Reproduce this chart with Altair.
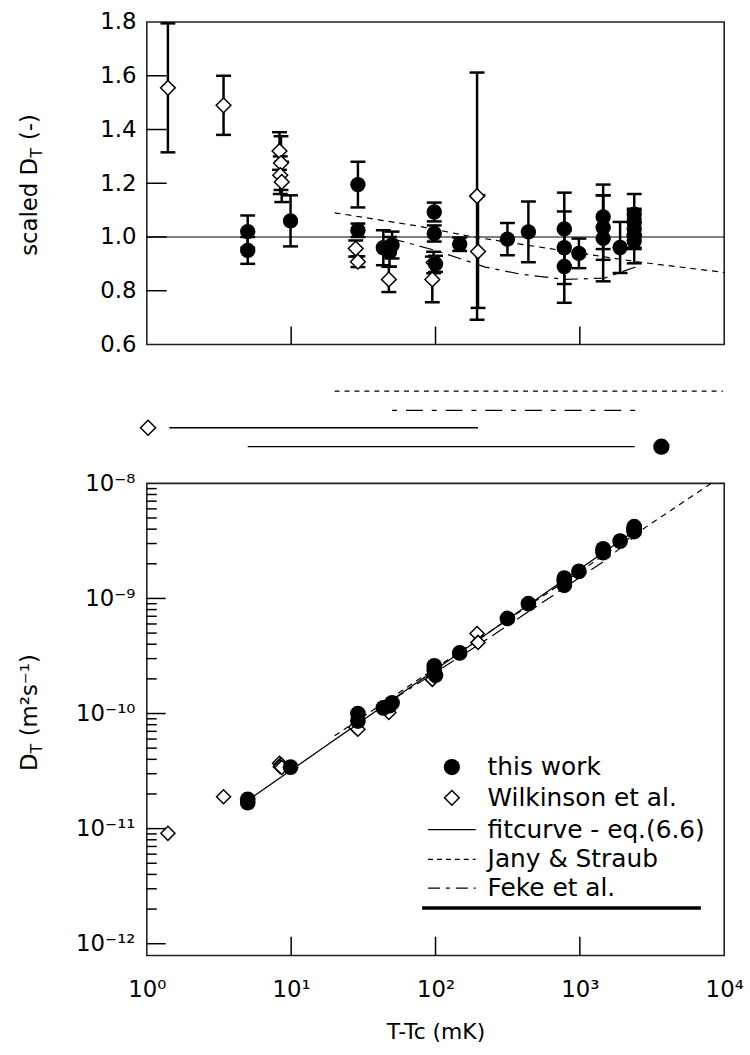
import altair as alt
import pandas as pd

FONT = "DejaVu Sans"

# ---------------------------------------------------------------- data
# this work: T-Tc (mK), scaled D_T, error of scaled D_T, D_T (m^2 s^-1)
tw_T = [5.0, 5.0, 9.9, 29, 29, 43.5, 48, 50, 98, 98, 100, 147, 315, 440,
        780, 780, 780, 985, 1450, 1450, 1450, 1900, 2380, 2380, 2380, 2380, 2380]
tw_scaled = [1.02, 0.95, 1.06, 1.195, 1.025, 0.96, 0.945, 0.97, 1.093, 1.013, 0.90,
             0.973, 0.992, 1.019, 1.03, 0.96, 0.89, 0.939, 1.075, 1.035, 0.995,
             0.961, 1.085, 1.055, 1.03, 1.005, 0.985]
tw_err = [0.06, 0.05, 0.095, 0.085, 0.025, 0.065, 0.055, 0.05, 0.035, 0.03, 0.03,
          0.025, 0.06, 0.113, 0.135, 0.135, 0.135, 0.055, 0.12, 0.12, 0.16,
          0.095, 0.075, 0.05, 0.07, 0.05, 0.083]
tw_D = [1.80e-11, 1.68e-11, 3.42e-11, 1.0e-10, 8.6e-11, 1.12e-10, 1.17e-10, 1.24e-10,
        2.6e-10, 2.4e-10, 2.15e-10, 3.36e-10, 6.7e-10, 9.0e-10, 1.5e-9, 1.4e-9, 1.3e-9,
        1.72e-9, 2.7e-9, 2.6e-9, 2.5e-9, 3.15e-9, 4.2e-9, 4.08e-9, 3.98e-9, 3.89e-9, 3.81e-9]

# Wilkinson et al.
wk_T = [1.4, 3.4, 8.3, 8.5, 8.4, 8.6, 28, 29, 47.5, 95, 97, 194, 197]
wk_scaled = [1.555, 1.49, 1.32, 1.275, 1.23, 1.205, 0.957, 0.908, 0.842, 0.842, 0.905, 1.152, 0.946]
wk_err = [0.24, 0.11, 0.07, 0.1, 0.07, 0.075, 0.03, 0.02, 0.047, 0.085, 0.04, 0.46, 0.21]
wk_D = [9.1e-12, 1.89e-11, 3.7e-11, 3.6e-11, 3.45e-11, 3.4e-11, 7.6e-11, 7.3e-11,
        1.02e-10, 1.98e-10, 2.15e-10, 4.95e-10, 4.15e-10]

# literature correlations, scaled by the fit curve
jany_T = [20, 73, 183, 1080, 2640, 10000]
jany_scaled = [1.09, 1.042, 1.0, 0.937, 0.906, 0.868]
feke_T = [49, 100, 221, 386, 785, 1480, 2570]
feke_scaled = [0.995, 0.95, 0.888, 0.862, 0.842, 0.847, 0.893]

# fit curve and correlations in absolute units
fit_T = [5, 2400]
fit_D = [1.76e-11, 3.87e-9]
jany_D_T = [20, 200, 1000, 10000]
jany_D = [6.4e-11, 4.45e-10, 1.72e-9, 1.19e-8]
feke_D_T = [50, 220, 785, 1480, 2570]
feke_D = [1.31e-10, 4.3e-10, 1.24e-9, 2.12e-9, 3.7e-9]

# temperature range covered by each data set
range_names = ["Jany & Straub", "Feke et al.", "Wilkinson et al.", "this work"]
range_lo = [20, 50, 1.43, 5]
range_hi = [9800, 2500, 197, 2400]
wk_marker_T = [1.02]
tw_marker_T = [3670]

# axes
top_y_labels = [0.6, 0.8, 1.0, 1.2, 1.4, 1.6, 1.8]
top_y_ticks = [0.8, 1.0, 1.2, 1.4, 1.6]
x_ticks = [10, 100, 1000]
x_label_values = [1, 10, 100, 1000, 10000]
x_label_text = ["10\u2070", "10\u00b9", "10\u00b2", "10\u00b3", "10\u2074"]
bot_y_label_values = [1e-12, 1e-11, 1e-10, 1e-9, 1e-8]
bot_y_label_text = ["10\u207b\u00b9\u00b2", "10\u207b\u00b9\u00b9", "10\u207b\u00b9\u2070",
                    "10\u207b\u2079", "10\u207b\u2078"]
bot_y_major = [1e-12, 1e-11, 1e-10, 1e-9]
bot_y_minor = [m * 10.0 ** e for e in range(-12, -8) for m in range(2, 10)]

legend_labels = ["this work", "Wilkinson et al.", "fitcurve - eq.(6.6)",
                 "Jany & Straub", "Feke et al."]

# ---------------------------------------------------------------- tables
tw = pd.DataFrame({"T": tw_T, "scaled": tw_scaled, "err": tw_err, "D": tw_D})
tw["lo"] = tw["scaled"] - tw["err"]
tw["hi"] = tw["scaled"] + tw["err"]
wk = pd.DataFrame({"T": wk_T, "scaled": wk_scaled, "err": wk_err, "D": wk_D})
wk["lo"] = wk["scaled"] - wk["err"]
wk["hi"] = wk["scaled"] + wk["err"]
jany_top = pd.DataFrame({"T": jany_T, "scaled": jany_scaled})
feke_top = pd.DataFrame({"T": feke_T, "scaled": feke_scaled})
fit_bot = pd.DataFrame({"T": fit_T, "D": fit_D})
jany_bot = pd.DataFrame({"T": jany_D_T, "D": jany_D})
feke_bot = pd.DataFrame({"T": feke_D_T, "D": feke_D})
ranges = pd.DataFrame({"name": range_names, "lo": range_lo, "hi": range_hi})


def label_expr(values, texts):
    expr = "'%s'" % texts[-1]
    for v, t in reversed(list(zip(values[:-1], texts[:-1]))):
        expr = "datum.value < %g ? '%s' : %s" % (v * 3.1623, t, expr)
    return expr


# ---------------------------------------------------------------- scales / styles
W, H_TOP, H_MID, H_BOT = 582, 325, 140, 476
xs = alt.Scale(type="log", domain=[1, 10000], nice=False)
ys_top = alt.Scale(domain=[0.6, 1.8], nice=False, zero=False)
ys_bot = alt.Scale(type="log", domain=[10 ** -12.103, 1e-8], nice=False)

DASH_JANY = [6, 5]
DASH_FEKE = [14, 6, 4, 6]
LABEL_SIZE = 23
NBSP = "\u00a0"

top_y_axis = alt.Axis(values=top_y_labels, format=".1f", title=None, ticks=False,
                      domain=False, grid=False, labelFontSize=LABEL_SIZE, labelPadding=11,
                      labelFont=FONT, labelColor="black", labelFlush=False,
                      labelOverlap=False)
bot_y_axis = alt.Axis(values=bot_y_label_values,
                      labelExpr=label_expr(bot_y_label_values, bot_y_label_text),
                      title=None, ticks=False, domain=False, grid=False,
                      labelFontSize=LABEL_SIZE, labelPadding=12, labelFont=FONT,
                      labelColor="black", labelFlush=False, labelOverlap=False)
bot_x_axis = alt.Axis(values=x_label_values,
                      labelExpr=label_expr(x_label_values, x_label_text),
                      title="T-Tc (mK)", ticks=False, domain=False, grid=False,
                      labelFontSize=LABEL_SIZE, labelPadding=23, labelFont=FONT,
                      labelColor="black", labelFlush=False, labelOverlap=False,
                      titleFont=FONT, titleFontSize=22, titleFontWeight="normal",
                      titleColor="black", titlePadding=21)


def X_none(f):
    return alt.X(f, type="quantitative", scale=xs, axis=None)


def X_bot(f):
    return alt.X(f, type="quantitative", scale=xs, axis=bot_x_axis)


def Y_top(f):
    return alt.Y(f, type="quantitative", scale=ys_top, axis=top_y_axis)


def Y_bot(f):
    return alt.Y(f, type="quantitative", scale=ys_bot, axis=bot_y_axis)


def one(text=""):
    return pd.DataFrame({"s": [text]})


def text_at(s, x, y, size, angle=0, align="left", baseline="middle"):
    return alt.Chart(one(s)).mark_text(
        align=align, baseline=baseline, fontSize=size, font=FONT, angle=angle,
        color="black").encode(x=alt.value(x), y=alt.value(y), text="s:N")


# ---------------------------------------------------------------- top panel: scaled D_T
unity = alt.Chart(pd.DataFrame({"v": [1.0]})).mark_rule(
    color="black", strokeWidth=1.2).encode(y=Y_top("v"))
jany_line_top = alt.Chart(jany_top).mark_line(
    color="black", strokeWidth=1.2, strokeDash=DASH_JANY).encode(
    x=X_none("T"), y=Y_top("scaled"))
feke_line_top = alt.Chart(feke_top).mark_line(
    color="black", strokeWidth=1.2, strokeDash=DASH_FEKE).encode(
    x=X_none("T"), y=Y_top("scaled"))
top_yt = alt.Chart(pd.DataFrame({"v": top_y_ticks})).mark_rule(
    color="black", strokeWidth=1.5).encode(y=Y_top("v"), x=alt.value(0), x2=alt.value(20))
top_xt = alt.Chart(pd.DataFrame({"v": x_ticks})).mark_rule(
    color="black", strokeWidth=1.5).encode(x=X_none("v"), y=alt.value(H_TOP),
                                           y2=alt.value(H_TOP - 18))


def errbars(df):
    bar = alt.Chart(df).mark_rule(color="black", strokeWidth=2.5).encode(
        x=X_none("T"), y=Y_top("lo"), y2="hi")
    lo = alt.Chart(df).mark_tick(orient="horizontal", size=15, thickness=2.5,
                                 color="black", opacity=1).encode(x=X_none("T"), y=Y_top("lo"))
    hi = alt.Chart(df).mark_tick(orient="horizontal", size=15, thickness=2.5,
                                 color="black", opacity=1).encode(x=X_none("T"), y=Y_top("hi"))
    return bar + lo + hi


wk_top_pts = alt.Chart(wk).mark_point(
    shape="diamond", filled=True, fill="white", stroke="black", strokeWidth=1.5,
    size=220, opacity=1).encode(x=X_none("T"), y=Y_top("scaled"))
tw_top_pts = alt.Chart(tw).mark_circle(size=240, color="black", opacity=1).encode(
    x=X_none("T"), y=Y_top("scaled"))

top_title = (text_at("scaled D", -111, 235.7, 23, angle=270, baseline="alphabetic")
             + text_at("T", -106, 136.8, 16, angle=270, baseline="alphabetic")
             + text_at(NBSP + "(-)", -111, 119.0, 23, angle=270, baseline="alphabetic"))

top = alt.layer(unity, jany_line_top, feke_line_top, top_yt, top_xt,
                errbars(wk), errbars(tw), wk_top_pts, tw_top_pts, top_title
                ).properties(width=W, height=H_TOP)

# ---------------------------------------------------------------- middle: ranges of data sets
def range_line(name, y, dash=None, width=1.4):
    kw = {"strokeDash": dash} if dash else {}
    return alt.Chart(ranges[ranges["name"] == name]).mark_rule(
        color="black", strokeWidth=width, **kw).encode(
        x=X_none("lo"), x2="hi", y=alt.value(y))


mid = alt.layer(
    range_line("Jany & Straub", 47, [5, 5], 1.2),
    range_line("Feke et al.", 66.5, [5, 9, 17, 9], 1.2),
    range_line("Wilkinson et al.", 84),
    range_line("this work", 103),
    alt.Chart(pd.DataFrame({"T": wk_marker_T})).mark_point(
        shape="diamond", filled=True, fill="white", stroke="black", strokeWidth=1.5,
        size=230, opacity=1).encode(x=X_none("T"), y=alt.value(84)),
    alt.Chart(pd.DataFrame({"T": tw_marker_T})).mark_circle(
        size=270, color="black", opacity=1).encode(x=X_none("T"), y=alt.value(103)),
).properties(width=W, height=H_MID, view=alt.ViewBackground(stroke=None))

# ---------------------------------------------------------------- bottom panel: D_T
fit_line = alt.Chart(fit_bot).mark_line(color="black", strokeWidth=1.3).encode(
    x=X_bot("T"), y=Y_bot("D"))
jany_line_bot = alt.Chart(jany_bot).mark_line(
    color="black", strokeWidth=1.2, strokeDash=DASH_JANY, clip=True).encode(
    x=X_bot("T"), y=Y_bot("D"))
feke_line_bot = alt.Chart(feke_bot).mark_line(
    color="black", strokeWidth=1.2, strokeDash=DASH_FEKE).encode(
    x=X_bot("T"), y=Y_bot("D"))
bot_major = alt.Chart(pd.DataFrame({"v": bot_y_major})).mark_rule(
    color="black", strokeWidth=1.5).encode(y=Y_bot("v"), x=alt.value(0), x2=alt.value(19))
bot_minor = alt.Chart(pd.DataFrame({"v": bot_y_minor})).mark_rule(
    color="black", strokeWidth=1.5).encode(y=Y_bot("v"), x=alt.value(0), x2=alt.value(10))
bot_xt = alt.Chart(pd.DataFrame({"v": x_ticks})).mark_rule(
    color="black", strokeWidth=1.5).encode(x=X_bot("v"), y=alt.value(H_BOT),
                                           y2=alt.value(H_BOT - 19))
wk_bot_pts = alt.Chart(wk).mark_point(
    shape="diamond", filled=True, fill="white", stroke="black", strokeWidth=1.5,
    size=200, opacity=1).encode(x=X_bot("T"), y=Y_bot("D"))
tw_bot_pts = alt.Chart(tw).mark_circle(size=250, color="black", opacity=1).encode(
    x=X_bot("T"), y=Y_bot("D"))

# legend
LX_SYM, LX_LINE0, LX_LINE1, LX_TEXT = 307.5, 283.5, 331.5, 343.5
rows = [286, 317, 349, 379, 408]
legend = [
    alt.Chart(one()).mark_circle(size=270, color="black", opacity=1).encode(
        x=alt.value(LX_SYM), y=alt.value(rows[0])),
    alt.Chart(one()).mark_point(shape="diamond", filled=True, fill="white", stroke="black",
                                strokeWidth=1.5, size=220, opacity=1).encode(
        x=alt.value(LX_SYM), y=alt.value(rows[1])),
    alt.Chart(one()).mark_rule(color="black", strokeWidth=1.3).encode(
        x=alt.value(LX_LINE0), x2=alt.value(LX_LINE1), y=alt.value(rows[2])),
    alt.Chart(one()).mark_rule(color="black", strokeWidth=1.2, strokeDash=[5, 4]).encode(
        x=alt.value(LX_LINE0), x2=alt.value(LX_LINE1), y=alt.value(rows[3])),
    alt.Chart(one()).mark_rule(color="black", strokeWidth=1.2, strokeDash=[12, 6, 4, 6]).encode(
        x=alt.value(LX_LINE0), x2=alt.value(LX_LINE1), y=alt.value(rows[4])),
    alt.Chart(one()).mark_rule(color="black", strokeWidth=3.5).encode(
        x=alt.value(277.5), x2=alt.value(558.5), y=alt.value(428)),
]
legend += [text_at(lbl, LX_TEXT, r, 25) for lbl, r in zip(legend_labels, rows)]

bot_title = (text_at("D", -111, 290, 23, angle=270, baseline="alphabetic")
             + text_at("T", -106, 272.3, 16, angle=270, baseline="alphabetic")
             + text_at(NBSP + "(m\u00b2s\u207b\u00b9)", -111, 255.0, 23, angle=270,
                       baseline="alphabetic"))

bot = alt.layer(fit_line, jany_line_bot, feke_line_bot, bot_major, bot_minor, bot_xt,
                wk_bot_pts, tw_bot_pts, *legend, bot_title
                ).properties(width=W, height=H_BOT)

chart = alt.vconcat(top, mid, bot, spacing=0, bounds="flush").properties(
    padding={"left": 18, "top": 6, "right": 5, "bottom": 5}
).configure(font=FONT).configure_view(stroke="#222", strokeWidth=1.6)

chart.save("out.html", embed_options={"renderer": "svg", "actions": False})
